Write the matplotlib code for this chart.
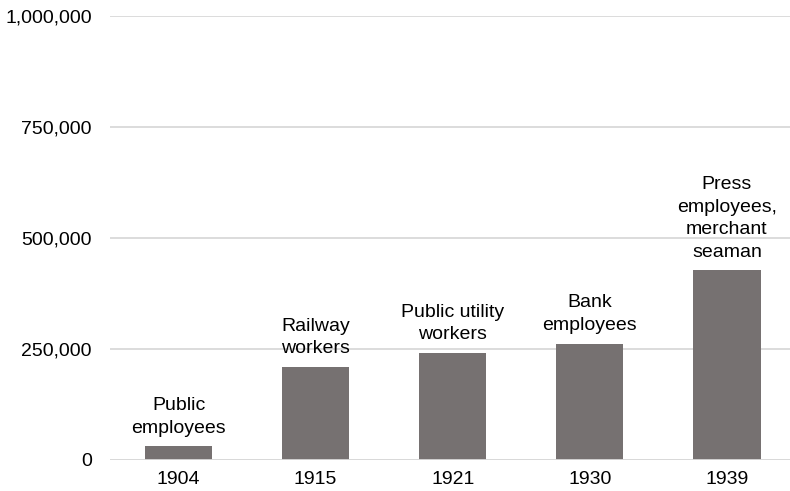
import matplotlib

matplotlib.use("Agg")

import matplotlib.pyplot as plt
from matplotlib.ticker import FuncFormatter

YEARS = ["1904", "1915", "1921", "1930", "1939"]
MEMBERS = [31000, 209000, 241000, 262000, 427000]
GROUPS = [
    "Public\nemployees",
    "Railway\nworkers",
    "Public utility\nworkers",
    "Bank\nemployees",
    "Press\nemployees,\nmerchant\nseaman",
]

plt.rcParams["font.family"] = ["Liberation Sans", "DejaVu Sans"]
plt.rcParams["font.size"] = 14

fig = plt.figure(figsize=(7.9, 4.91), dpi=100)
ax = fig.add_axes([110 / 790, 31 / 491, 680 / 790, 444 / 491])

x = list(range(len(YEARS)))
ax.bar(x, MEMBERS, width=0.49, color="#767171", zorder=2)
ax.axhline(0, color="#d9d9d9", linewidth=1.3, zorder=3)

for xi, value, label in zip(x, MEMBERS, GROUPS):
    ax.annotate(
        label,
        (xi, value),
        xytext=(0, 7),
        textcoords="offset points",
        ha="center",
        va="bottom",
        linespacing=1.42,
    )

ax.set_xlim(-0.5, 4.46)
ax.set_ylim(0, 1000000)
ax.set_yticks([0, 250000, 500000, 750000, 1000000])
ax.yaxis.set_major_formatter(FuncFormatter(lambda v, _: f"{int(v):,}"))
ax.set_xticks(x)
ax.set_xticklabels(YEARS)
ax.grid(axis="y", color="#d9d9d9", linewidth=1.3, zorder=0)
ax.set_axisbelow(True)
ax.tick_params(axis="x", length=0, pad=8)
ax.tick_params(axis="y", length=0, pad=13)
for spine in ax.spines.values():
    spine.set_visible(False)

fig.savefig("out.png", dpi=100)
